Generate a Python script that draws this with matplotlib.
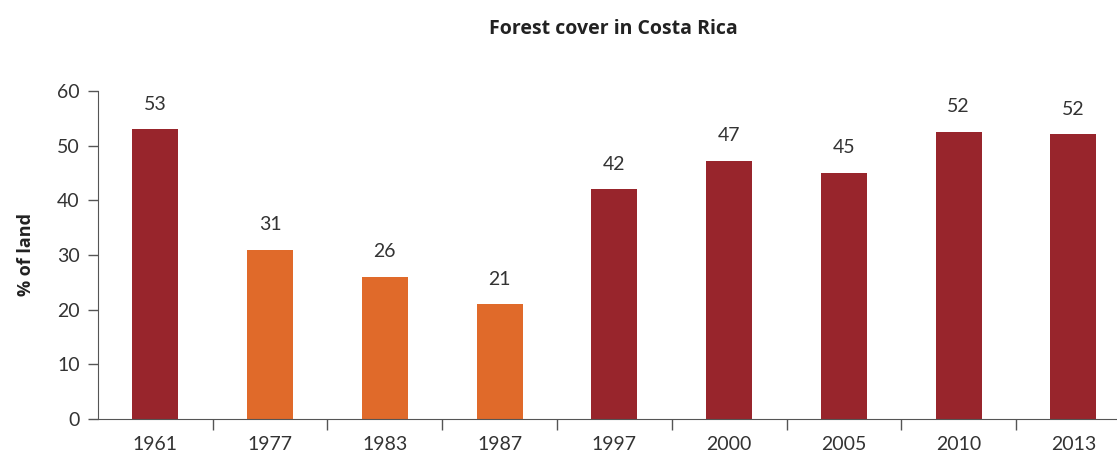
import matplotlib.pyplot as plt
import numpy as np

years = ['1961', '1977', '1983', '1987', '1997', '2000', '2005', '2010', '2013']
forest = [53, 31, 26, 21, 42, 47.2, 45, 52.5, 52.1]
labels = ['53', '31', '26', '21', '42', '47', '45', '52', '52']
# darker red for the higher-cover years, orange for the low years
bar_colors = ['#98252C', '#E06A2A', '#E06A2A', '#E06A2A', '#98252C',
              '#98252C', '#98252C', '#98252C', '#98252C']

plt.rcParams['font.family'] = ['Lato', 'DejaVu Sans']

fig = plt.figure(figsize=(11.17, 4.54), dpi=100)
ax = fig.add_axes([0.0877, 0.0771, 0.9123, 0.7225])

index = np.arange(len(years))
ax.bar(index, forest, width=0.4, color=bar_colors)

for i in range(len(forest)):
    ax.annotate(labels[i], (index[i], forest[i]), xytext=(0, 12),
                textcoords='offset points', ha='center', va='bottom',
                fontsize=14, color='#333333')

ax.set_xlim(-0.5, 8.38)
ax.set_ylim(0, 60)
ax.set_yticks(range(0, 61, 10))
ax.set_xticks(index)
ax.set_xticklabels(years)
ax.set_xticks(index[:-1] + 0.5, minor=True)
ax.tick_params(axis='x', which='major', length=0, pad=12, labelsize=14, labelcolor='#333333')
ax.tick_params(axis='x', which='minor', length=8, width=1, color='#555555')
ax.tick_params(axis='y', length=7, width=1, color='#555555', pad=6, labelsize=14, labelcolor='#333333')

for s in ['top', 'right']:
    ax.spines[s].set_visible(False)
ax.spines['left'].set_color('#555555')
ax.spines['bottom'].set_color('#555555')

ax.set_ylabel('% of land', fontsize=13, fontweight='bold', color='#222222', labelpad=16,
              family=['Open Sans', 'DejaVu Sans'])
fig.text(0.549, 0.937, 'Forest cover in Costa Rica', ha='center', va='center',
         fontsize=14, fontweight='bold', color='#222222', family=['Open Sans', 'DejaVu Sans'])

plt.savefig('out.png', dpi=100)
